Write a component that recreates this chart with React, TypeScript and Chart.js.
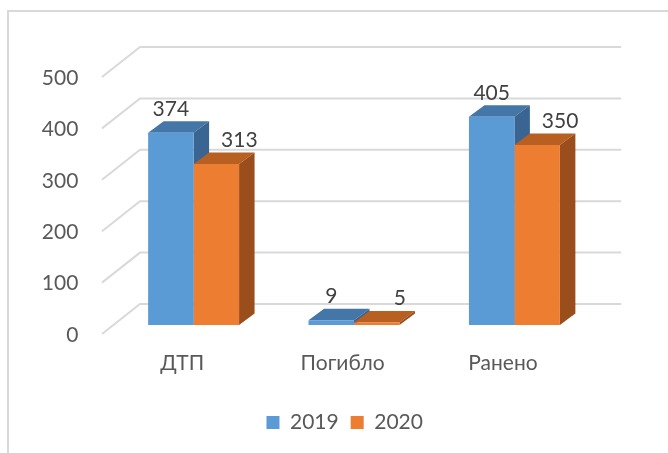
import React, { useEffect, useRef } from 'react';
import { Chart, registerables } from 'chart.js';

Chart.register(...registerables);

const categories = ['ДТП', 'Погибло', 'Ранено'];
const seriesNames = ['2019', '2020'];
const values2019 = [374, 9, 405];
const values2020 = [313, 5, 350];
const yMin = 0;
const yMax = 500;
const yStep = 100;

const FONT = "Lato, 'Open Sans', sans-serif";
const FONT_SIZE = 21;
const frontColors = ['#5B9BD5', '#ED7D31'];
const topColors = ['#4576A8', '#B85F22'];
const sideColors = ['#3A6592', '#9A4E1C'];
const labelShift = [0, 23];

// 3D geometry (pixels)
const floorDepth = { dx: 38, dy: -30 };
const barPlane = 0.3;
const barDepth = { dx: 15.5, dy: -11.5 };

export default function App() {
  const ref = useRef<HTMLCanvasElement>(null);

  useEffect(() => {
    const canvas = ref.current;
    if (!canvas) return;

    const framePlugin = {
      id: 'frame',
      beforeDraw(chart: any) {
        const ctx = chart.ctx;
        ctx.save();
        ctx.strokeStyle = '#D9D9D9';
        ctx.lineWidth = 2;
        ctx.strokeRect(8, 11, 720, 520);
        ctx.restore();
      },
    };

    const grid3d = {
      id: 'grid3d',
      beforeDatasetsDraw(chart: any) {
        const { ctx, chartArea, scales } = chart;
        const y = scales.y;
        const fx = -floorDepth.dx * barPlane;
        const fy = -floorDepth.dy * barPlane;
        const bx = floorDepth.dx * (1 - barPlane);
        const by = floorDepth.dy * (1 - barPlane);
        ctx.save();
        ctx.strokeStyle = '#D9D9D9';
        ctx.lineWidth = 2;
        y.ticks.forEach((t: any) => {
          const py = y.getPixelForValue(t.value);
          ctx.beginPath();
          ctx.moveTo(chartArea.left + fx, py + fy);
          ctx.lineTo(chartArea.left + bx, py + by);
          ctx.lineTo(chartArea.right + bx, py + by);
          ctx.stroke();
        });
        // top & side faces of bars
        chart.data.datasets.forEach((_ds: any, di: number) => {
          const meta = chart.getDatasetMeta(di);
          meta.data.forEach((el: any) => {
            const { x, y: top, base, width } = el.getProps(['x', 'y', 'base', 'width'], true);
            const l = x - width / 2;
            const r = x + width / 2;
            ctx.fillStyle = topColors[di];
            ctx.beginPath();
            ctx.moveTo(l, top);
            ctx.lineTo(r, top);
            ctx.lineTo(r + barDepth.dx, top + barDepth.dy);
            ctx.lineTo(l + barDepth.dx, top + barDepth.dy);
            ctx.closePath();
            ctx.fill();
            ctx.fillStyle = sideColors[di];
            ctx.beginPath();
            ctx.moveTo(r, top);
            ctx.lineTo(r + barDepth.dx, top + barDepth.dy);
            ctx.lineTo(r + barDepth.dx, base + barDepth.dy);
            ctx.lineTo(r, base);
            ctx.closePath();
            ctx.fill();
          });
        });
        ctx.restore();
      },
    };

    const dataLabels = {
      id: 'dataLabels3d',
      afterDatasetsDraw(chart: any) {
        const ctx = chart.ctx;
        ctx.save();
        ctx.font = `${FONT_SIZE}px ${FONT}`;
        ctx.fillStyle = '#404040';
        ctx.textAlign = 'center';
        ctx.textBaseline = 'middle';
        chart.data.datasets.forEach((ds: any, di: number) => {
          const meta = chart.getDatasetMeta(di);
          meta.data.forEach((el: any, i: number) => {
            const { x, y } = el.getProps(['x', 'y'], true);
            ctx.fillText(String(ds.data[i]), x + labelShift[di], y - 24);
          });
        });
        ctx.restore();
      },
    };

    const chart = new Chart(canvas, {
      type: 'bar',
      data: {
        labels: categories,
        datasets: [
          { label: seriesNames[0], data: values2019, backgroundColor: frontColors[0], borderWidth: 0 },
          { label: seriesNames[1], data: values2020, backgroundColor: frontColors[1], borderWidth: 0 },
        ],
      },
      options: {
        responsive: false,
        animation: false,
        devicePixelRatio: 1,
        layout: { padding: { left: 21.4, right: 0, top: 68, bottom: 10 } },
        datasets: { bar: { categoryPercentage: 0.567, barPercentage: 1.0 } } as any,
        plugins: {
          legend: {
            position: 'bottom',
            labels: {
              boxWidth: 13,
              boxHeight: 13,
              padding: 12,
              color: '#595959',
              font: { size: FONT_SIZE, family: FONT },
            },
          },
          tooltip: { enabled: false },
        },
        scales: {
          x: {
            grid: { display: false, drawTicks: false },
            border: { display: false },
            ticks: {
              color: '#595959',
              font: { size: FONT_SIZE, family: FONT },
              labelOffset: -11.4,
              padding: 26,
            },
            afterFit(s: any) {
              s.height = 75;
            },
          },
          y: {
            min: yMin,
            max: yMax,
            grid: { display: false, drawTicks: false },
            border: { display: false },
            ticks: {
              stepSize: yStep,
              color: '#595959',
              font: { size: FONT_SIZE, family: FONT },
              padding: 35,
              labelOffset: 10,
            },
            afterFit(s: any) {
              s.width = 92;
            },
          },
          yR: {
            type: 'linear',
            position: 'right',
            min: yMin,
            max: yMax,
            grid: { display: false, drawTicks: false },
            border: { display: false },
            ticks: { display: false },
            afterFit(s: any) {
              s.width = 73.4;
            },
          },
        },
      },
      plugins: [framePlugin, grid3d, dataLabels],
    });

    return () => chart.destroy();
  }, []);

  return (
    <div style={{ position: 'absolute', left: 0, top: 0, width: 668, height: 453 }}>
      <canvas ref={ref} width={668} height={453} />
    </div>
  );
}
